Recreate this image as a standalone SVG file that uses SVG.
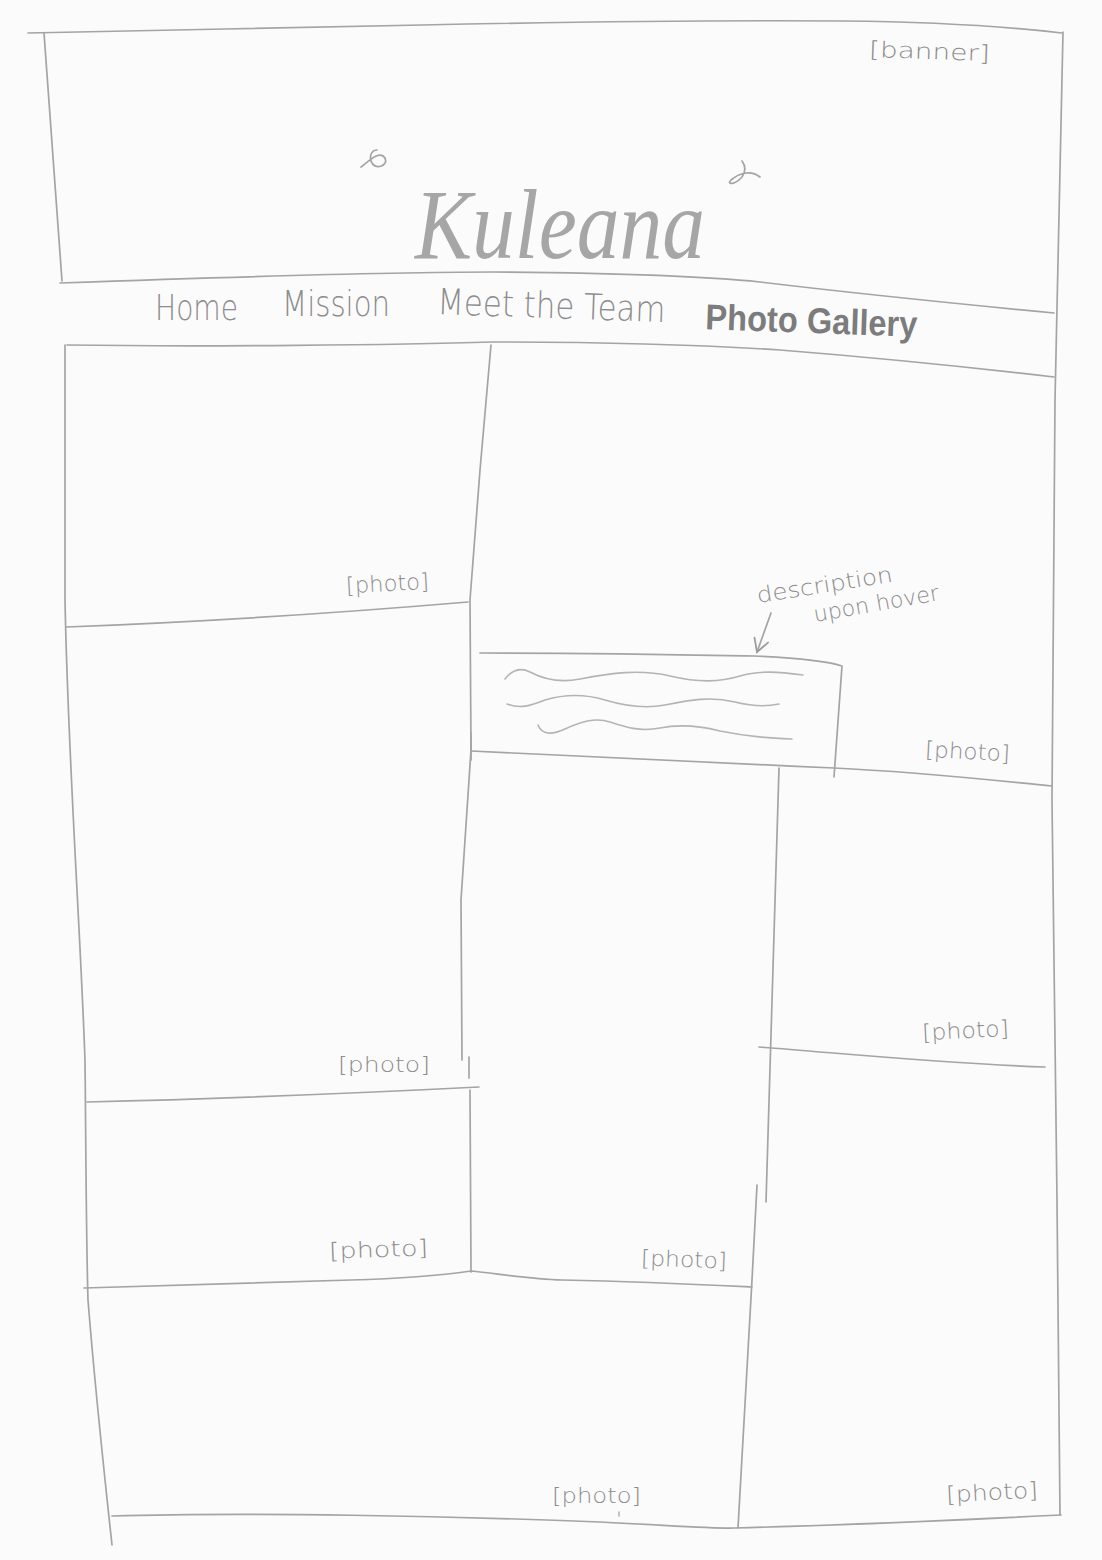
<svg xmlns="http://www.w3.org/2000/svg" width="1102" height="1560" viewBox="0 0 1102 1560">
  <style>
    .pen { fill: none; stroke: #a4a4a4; stroke-width: 1.7; stroke-linecap: round; stroke-linejoin: round; }
    .soft { fill: none; stroke: #b4b4b4; stroke-width: 1.6; stroke-linecap: round; }
    .hand { font-family: "DejaVu Sans", "Liberation Sans", sans-serif; font-weight: 200; fill: #8c8c8c; }
    .label { font-size: 22px; }
    .nav { font-size: 36px; }
    .active { font-family: "Liberation Sans", "DejaVu Sans", sans-serif; font-weight: bold; font-size: 36px; fill: #7c7c7c; }
    .title { font-family: "Liberation Serif", "DejaVu Serif", serif; font-style: italic; font-size: 100px; fill: #a6a6a6; }
  </style>
  <defs>
    <marker id="pencil-head" viewBox="0 0 20 20" refX="16" refY="10" markerWidth="18" markerHeight="18" markerUnits="userSpaceOnUse" orient="auto">
      <path d="M2,2 L16,10 L2,18" fill="none" stroke="#9c9c9c" stroke-width="2" stroke-linecap="round"/>
    </marker>
  </defs>

  <rect width="1102" height="1560" fill="#fbfbfc"/>

  <!-- page outline and grid -->
  <g id="grid">
    <path class="pen" d="M28,33 C150,31 300,27 422,25 C560,22 700,20 843,21 C950,22 1010,27 1062,33"/>
    <path class="pen" d="M44,33 L62,281"/>
    <path class="pen" d="M65,345 L65,600 C68,760 80,920 85,1060 C86,1150 86,1230 88,1300 C96,1400 105,1480 112,1545"/>
    <path class="pen" d="M1063,32 L1055,400 L1052,800 L1057,1200 L1060,1515"/>
    <path class="pen" d="M112,1516 C250,1512 450,1516 600,1522 C680,1526 720,1529 735,1528 C850,1525 960,1520 1061,1515"/>
    <!-- banner / nav separators -->
    <path class="pen" d="M60,283 C200,278 400,272 492,272 C620,273 703,276 760,282 C860,294 960,304 1054,313"/>
    <path class="pen" d="M67,345 C200,347 400,345 492,342 C600,342 703,345 780,350 C880,358 960,366 1054,377"/>
    <!-- column 1 / column 2 divider -->
    <path class="pen" d="M491,345 L480,470 L470,600 L471,750 L461,900 L462,1060"/>
    <path class="pen" d="M469,1057 L469,1078"/>
    <path class="pen" d="M470,1090 L471,1272"/>
    <!-- column 1 rows -->
    <path class="pen" d="M66,627 C200,622 350,612 468,602"/>
    <path class="pen" d="M87,1102 C250,1098 400,1091 479,1087"/>
    <path class="pen" d="M84,1288 C200,1284 300,1281 351,1280 C420,1278 450,1274 471,1271 C500,1274 530,1279 562,1280 C650,1282 710,1285 752,1287"/>
    <!-- row under the hover box -->
    <path class="pen" d="M471,751 C560,755 700,762 834,768 C920,772 990,780 1052,786"/>
    <!-- column 2 / column 3 divider -->
    <path class="pen" d="M779,768 L766,1202"/>
    <path class="pen" d="M757,1185 L752,1280 L738,1528"/>
    <!-- column 3 row -->
    <path class="pen" d="M759,1047 C850,1054 950,1064 1045,1067"/>
  </g>

  <g id="banner">
    <text class="hand label" x="869" y="59" textLength="121" lengthAdjust="spacingAndGlyphs" transform="rotate(2 930 52)">[banner]</text>
    <path class="pen" d="M361,167 C370,160 380,150 385,158 C389,166 374,171 371,161 C369,154 373,150 377,150"/>
    <text class="title" x="415" y="258" textLength="290" lengthAdjust="spacingAndGlyphs">Kuleana</text>
    <path class="pen" d="M760,177 C750,169 738,174 731,180 C726,185 735,185 742,177 C746,171 745,165 742,161"/>
  </g>

  <g id="nav">
    <text class="hand nav" x="155" y="320" textLength="83" lengthAdjust="spacingAndGlyphs">Home</text>
    <text class="hand nav" x="282" y="316" textLength="108" lengthAdjust="spacingAndGlyphs">Mission</text>
    <text class="hand nav" x="437" y="318" textLength="228" lengthAdjust="spacingAndGlyphs" transform="rotate(2 550 318)">Meet the Team</text>
    <text class="active" x="705" y="333" textLength="212" lengthAdjust="spacingAndGlyphs" transform="rotate(2 810 333)">Photo Gallery</text>
  </g>

  <g id="photo-1"><text class="hand label" x="346" y="591" textLength="83" lengthAdjust="spacingAndGlyphs" transform="rotate(-3 388 585)">[photo]</text></g>
  <g id="photo-2"><text class="hand label" x="925" y="759" textLength="85" lengthAdjust="spacingAndGlyphs" transform="rotate(3 967 752)">[photo]</text></g>
  <g id="photo-3"><text class="hand label" x="922" y="1038" textLength="87" lengthAdjust="spacingAndGlyphs" transform="rotate(-3 965 1030)">[photo]</text></g>
  <g id="photo-4"><text class="hand label" x="338" y="1072" textLength="92" lengthAdjust="spacingAndGlyphs">[photo]</text></g>
  <g id="photo-5"><text class="hand label" x="329" y="1257" textLength="99" lengthAdjust="spacingAndGlyphs" transform="rotate(-2 378 1250)">[photo]</text></g>
  <g id="photo-6"><text class="hand label" x="641" y="1267" textLength="86" lengthAdjust="spacingAndGlyphs" transform="rotate(2 684 1260)">[photo]</text></g>
  <g id="photo-7"><text class="hand label" x="552" y="1503" textLength="89" lengthAdjust="spacingAndGlyphs">[photo]</text>
    <path class="soft" d="M619,1512 L619,1516"/></g>
  <g id="photo-8"><text class="hand label" x="946" y="1500" textLength="92" lengthAdjust="spacingAndGlyphs" transform="rotate(-3 990 1492)">[photo]</text></g>

  <!-- caption box shown on hover -->
  <g id="hover-description">
    <path class="pen" d="M480,653 C600,653 700,655 754,656 C800,658 830,662 842,666 L834,777"/>
    <path class="pen" d="M471,733 L471,760"/>
    <path class="soft" d="M505,679 C512,670 520,667 530,672 C545,680 560,683 580,679 C610,673 640,669 670,676 C700,683 720,682 740,676 C760,670 780,672 803,675"/>
    <path class="soft" d="M507,704 C520,709 530,706 545,700 C565,694 585,694 605,700 C625,706 645,709 665,705 C690,700 710,696 735,702 C755,707 770,706 779,704"/>
    <path class="soft" d="M538,725 C542,735 552,735 565,729 C580,722 595,717 610,722 C625,727 640,732 660,728 C680,724 700,726 720,731 C750,737 770,738 792,739"/>
    <text class="hand label" x="758" y="603" textLength="137" lengthAdjust="spacingAndGlyphs" transform="rotate(-9 758 603)">description</text>
    <text class="hand label" x="815" y="622" textLength="127" lengthAdjust="spacingAndGlyphs" transform="rotate(-10 815 622)">upon hover</text>
  </g>

  <g id="connectors">
    <path class="pen" d="M771,613 L757,652" marker-end="url(#pencil-head)"/>
  </g>
</svg>
